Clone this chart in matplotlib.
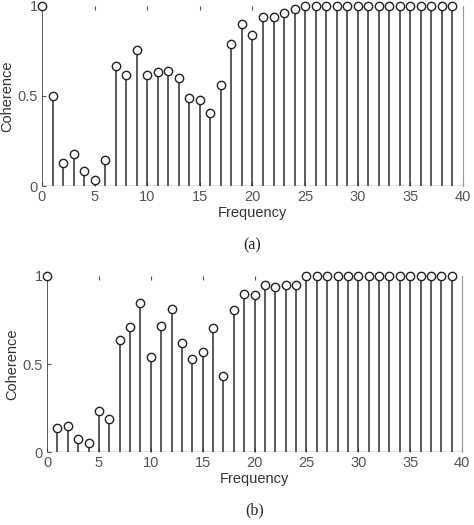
import numpy as np
import matplotlib.pyplot as plt

freq = np.arange(40)

# coherence (a)
coh_a = [1.0, 0.50, 0.13, 0.178, 0.081, 0.035, 0.143, 0.665, 0.617, 0.756,
         0.615, 0.635, 0.637, 0.60, 0.49, 0.478, 0.404, 0.561, 0.787, 0.898,
         0.839, 0.937, 0.941, 0.963, 0.981] + [1.0] * 15

# coherence (b)
coh_b = [1.0, 0.136, 0.148, 0.072, 0.049, 0.235, 0.188, 0.638, 0.708, 0.845,
         0.542, 0.716, 0.814, 0.617, 0.530, 0.570, 0.705, 0.432, 0.805, 0.90,
         0.894, 0.949, 0.938, 0.947, 0.949] + [1.0] * 15

xticks = [0, 5, 10, 15, 20, 25, 30, 35, 40]
yticks = [0, 0.5, 1]
yticklabels = ["0", "0.5", "1"]

plt.rcParams['font.family'] = ['Liberation Sans', 'DejaVu Sans']

fig = plt.figure(figsize=(4.74, 5.25), dpi=100)
ax_a = fig.add_axes([0.0886, 0.6457, 0.8882, 0.3429])
ax_b = fig.add_axes([0.0992, 0.1390, 0.8755, 0.3353])

for ax, coh, cap in [(ax_a, coh_a, "(a)"), (ax_b, coh_b, "(b)")]:
    markerline, stemlines, baseline = ax.stem(freq, coh, basefmt=" ")
    plt.setp(stemlines, color="#2e2e2e", linewidth=1.1)
    plt.setp(markerline, marker="o", markersize=6, markerfacecolor="white",
             markeredgecolor="#222222", markeredgewidth=1.0, clip_on=False)
    ax.axhline(0, color="#777777", linewidth=1.0)
    ax.set_xlim(0, 40)
    ax.set_ylim(0, 1)
    ax.set_xticks(xticks)
    ax.set_yticks(yticks)
    ax.set_yticklabels(yticklabels)
    ax.tick_params(direction="in", length=3, labelsize=10.5, colors="#555555",
                   top=True, pad=3)
    for side in ["top", "left", "bottom"]:
        ax.spines[side].set_visible(False)
    ax.spines["right"].set_color("#999999")
    ax.set_xlabel("Frequency", fontsize=10.5, color="#333333", labelpad=1)
    ax.set_ylabel("Coherence", fontsize=10.5, color="#333333", labelpad=2)
    ax.text(0.5, -0.33, cap, transform=ax.transAxes, ha="center", va="center",
            fontsize=11.5, family="Liberation Serif", color="#222222")

fig.savefig("out.png", dpi=100)
